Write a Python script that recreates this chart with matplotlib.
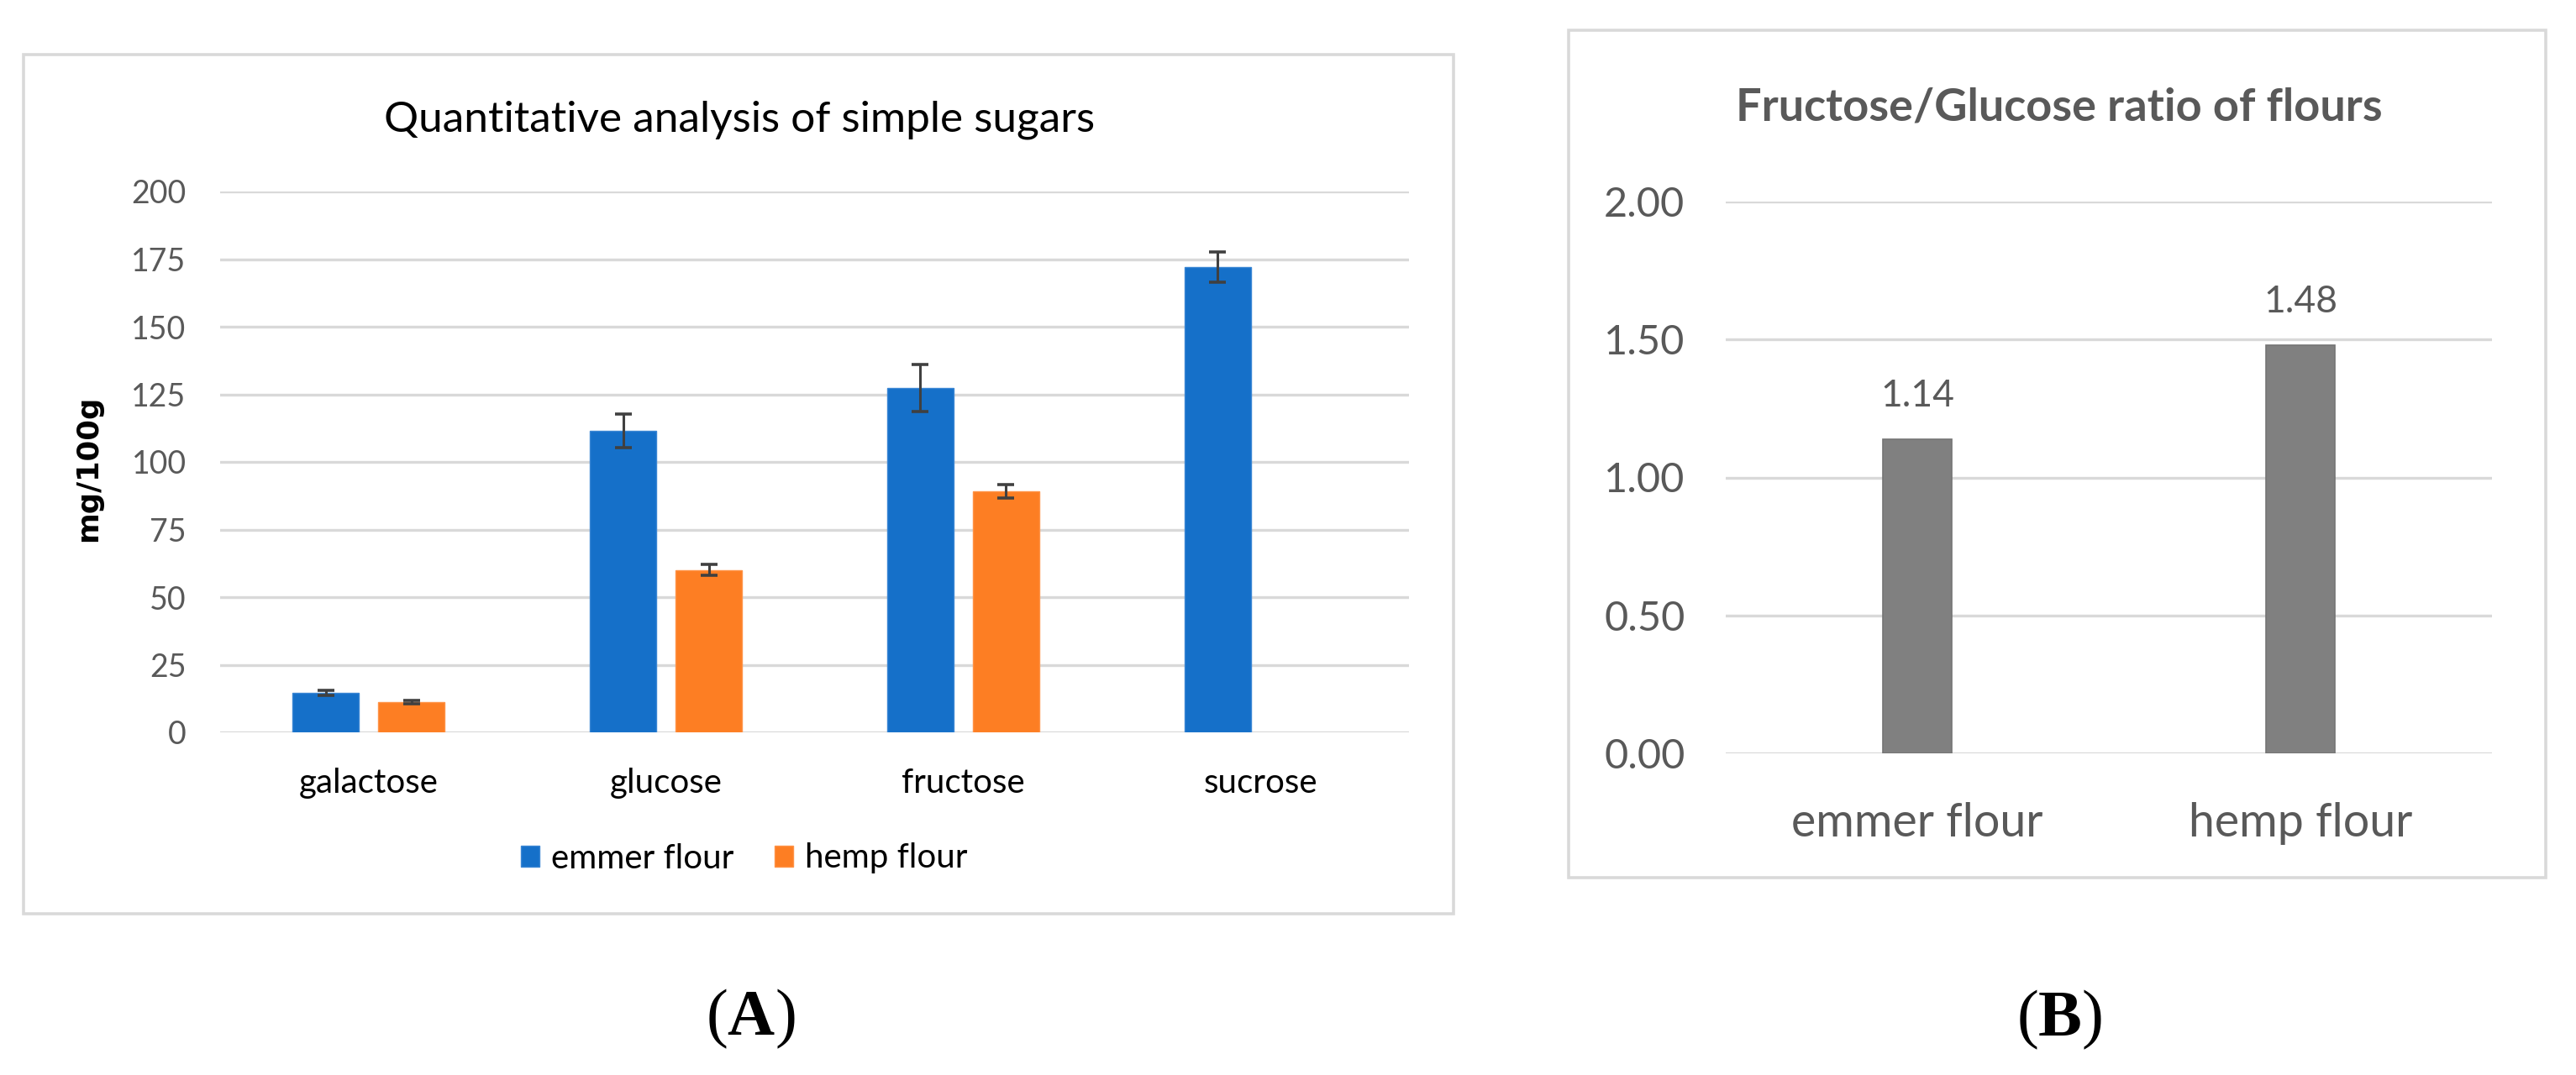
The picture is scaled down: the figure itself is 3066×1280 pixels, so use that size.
import matplotlib
matplotlib.use('Agg')
import matplotlib.pyplot as plt
from matplotlib.patches import Rectangle, Patch
import numpy as np

# ---------------- data ----------------
sugars = ['galactose', 'glucose', 'fructose', 'sucrose']
series_names = ['emmer flour', 'hemp flour']
emmer_vals = [14.6, 111.5, 127.3, 172.0]
emmer_err = [0.8, 6.1, 8.7, 5.5]
hemp_vals = [11.2, 60.0, 89.0, np.nan]     # no sucrose bar for hemp flour
hemp_err = [0.6, 2.0, 2.5, np.nan]
sugar_ticks = [0, 25, 50, 75, 100, 125, 150, 175, 200]

flours = ['emmer flour', 'hemp flour']
ratio_vals = [1.14, 1.48]
ratio_ticks = [0.0, 0.5, 1.0, 1.5, 2.0]

# ---------------- style ----------------
plt.rcParams['font.family'] = ['Lato', 'DejaVu Sans']
plt.rcParams['mathtext.fontset'] = 'custom'
plt.rcParams['mathtext.rm'] = 'Liberation Serif'
plt.rcParams['mathtext.bf'] = 'Liberation Serif:bold'

BLUE = '#1570c9'
ORANGE = '#fd7e23'
GREY_BAR = '#808080'
GRID = '#d9d9d9'
TXT_GREY = '#595959'

W, H = 3066, 1280
fig = plt.figure(figsize=(W / 100, H / 100), dpi=100)

def fx(px):
    return px / W

def fy(py):
    return 1 - py / H

# panel frames
fig.patches.append(Rectangle((fx(28), fy(1088)), fx(1730) - fx(28), fy(65) - fy(1088),
                             transform=fig.transFigure, fill=False, edgecolor=GRID, lw=2.6))
fig.patches.append(Rectangle((fx(1867), fy(1045)), fx(3030) - fx(1867), fy(36) - fy(1045),
                             transform=fig.transFigure, fill=False, edgecolor=GRID, lw=2.6))

# ---------------- panel A ----------------
axA = fig.add_axes([fx(262), fy(872), fx(1677) - fx(262), fy(228) - fy(872)])
x = np.arange(len(sugars))
bw = 0.223
off = 0.144
ev = np.array(emmer_vals, dtype=float)
hv = np.array(hemp_vals, dtype=float)
ee = np.array(emmer_err, dtype=float)
he = np.array(hemp_err, dtype=float)
mask = np.isfinite(hv)

axA.bar(x - off, ev, bw, color=BLUE, edgecolor='#3a86d4', lw=1, zorder=2, label=series_names[0])
axA.bar(x[mask] + off, hv[mask], bw, color=ORANGE, edgecolor='#ff9347', lw=1, zorder=2,
        label=series_names[1])
axA.errorbar(x - off, ev, yerr=ee, fmt='none', ecolor='#404040', elinewidth=2.2,
             capsize=7.2, capthick=2.6, zorder=3)
axA.errorbar(x[mask] + off, hv[mask], yerr=he[mask], fmt='none', ecolor='#404040',
             elinewidth=2.2, capsize=7.2, capthick=2.6, zorder=3)

axA.set_xlim(-0.5, len(sugars) - 0.5)
axA.set_ylim(0, 200)
axA.set_yticks(sugar_ticks)
axA.set_yticklabels([str(t) for t in sugar_ticks])
axA.set_xticks(x)
axA.set_xticklabels(sugars)
axA.yaxis.grid(True, color=GRID, linewidth=2.4)
axA.set_axisbelow(True)
for s in axA.spines.values():
    s.set_visible(False)
axA.tick_params(axis='y', length=0, pad=29, labelsize=27, labelcolor=TXT_GREY)
axA.tick_params(axis='x', length=0, pad=30, labelsize=29, labelcolor='#000000')

fig.text(fx(880), fy(156), 'Quantitative analysis of simple sugars', ha='center',
         va='baseline', fontsize=37, color='#000000')
fig.text(fx(105), fy(558), 'mg/100g', rotation=90, ha='center', va='center',
         fontsize=25.5, fontweight='bold', family='DejaVu Sans', color='#000000')

handles = [Patch(facecolor=BLUE, edgecolor='#3a86d4'), Patch(facecolor=ORANGE, edgecolor='#ff9347')]
fig.legend(handles, series_names, loc='center', bbox_to_anchor=(fx(886), fy(1022)), ncol=2,
           frameon=False, fontsize=29, handlelength=0.55, handleheight=0.6,
           handletextpad=0.35, columnspacing=1.2, borderpad=0)

fig.text(fx(893), fy(1213), r'($\mathbf{A}$)', ha='center', va='center', fontsize=56,
         family='Liberation Serif')

# ---------------- panel B ----------------
axB = fig.add_axes([fx(2054), fy(897), fx(2966) - fx(2054), fy(240) - fy(897)])
xb = np.arange(len(flours))
bars = axB.bar(xb, ratio_vals, 0.178, color=GREY_BAR, edgecolor='#747474', lw=1.2, zorder=2)
for xi, v in zip(xb, ratio_vals):
    axB.annotate(f'{v:.2f}', (xi, v), xytext=(0, 28), textcoords='offset points',
                 ha='center', va='baseline', fontsize=32, color=TXT_GREY)
axB.set_xlim(-0.5, len(flours) - 0.5)
axB.set_ylim(0, 2)
axB.set_yticks(ratio_ticks)
axB.set_yticklabels([f'{t:.2f}' for t in ratio_ticks])
axB.set_xticks(xb)
axB.set_xticklabels(flours)
axB.yaxis.grid(True, color=GRID, linewidth=2.4)
axB.set_axisbelow(True)
for s in axB.spines.values():
    s.set_visible(False)
axB.tick_params(axis='y', length=0, pad=35, labelsize=35, labelcolor=TXT_GREY)
axB.tick_params(axis='x', length=0, pad=42, labelsize=40, labelcolor=TXT_GREY)

fig.text(fx(2451), fy(144), 'Fructose/Glucose ratio of flours', ha='center', va='baseline',
         fontsize=39, fontweight='bold', color=TXT_GREY)

fig.text(fx(2451), fy(1214), r'($\mathbf{B}$)', ha='center', va='center', fontsize=56,
         family='Liberation Serif')

fig.savefig('out.png', dpi=100)
